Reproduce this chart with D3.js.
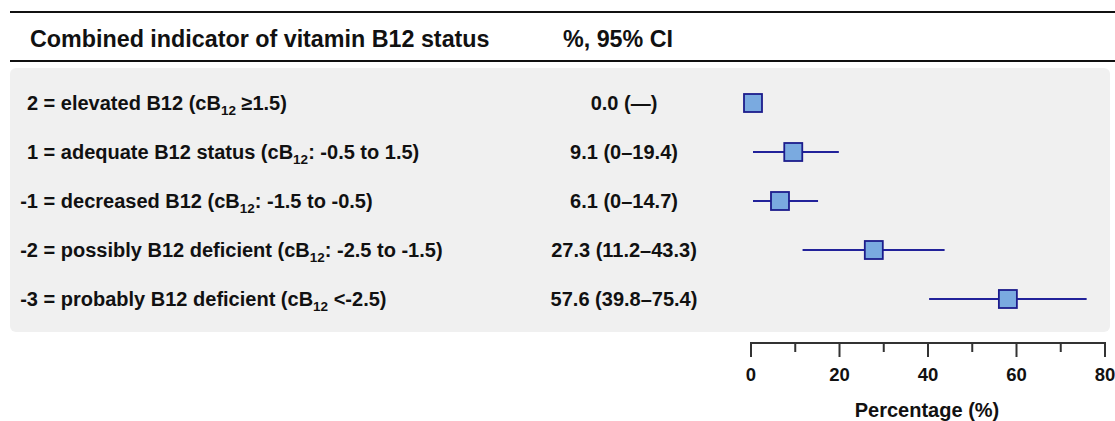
<!DOCTYPE html>
<meta charset="utf-8">

<style>
body { margin: 0; background: #fff; }
svg text { font-family: "Liberation Sans", Arial, sans-serif; font-weight: bold; fill: #111; }
</style>

<svg width="1115" height="421"></svg>

<script src="https://d3js.org/d3.v7.min.js"></script>

<script>
// category codes and their descriptions (the subscript "12" after cB is drawn as tspan)
var codes = ["2", "1", "-1", "-2", "-3"]
var descA = ["elevated B12 (cB", "adequate B12 status (cB", "decreased B12 (cB", "possibly B12 deficient (cB", "probably B12 deficient (cB"]
var descB = [" \u22651.5)", ": -0.5 to 1.5)", ": -1.5 to -0.5)", ": -2.5 to -1.5)", " <-2.5)"]

// percentages with 95% CI
var pct   = [0.0, 9.1, 6.1, 27.3, 57.6]
var lower = [null, 0, 0, 11.2, 39.8]
var upper = [null, 19.4, 14.7, 43.3, 75.4]
var ciText = ["0.0 (\u2014)", "9.1 (0\u201319.4)", "6.1 (0\u201314.7)", "27.3 (11.2\u201343.3)", "57.6 (39.8\u201375.4)"]

var xTicks = [0, 10, 20, 30, 40, 50, 60, 70, 80]
var xLabels = [0, 20, 40, 60, 80]

var svg = d3.select('svg')

var x = d3.scaleLinear().domain([0, 80]).range([751, 1105])
// marks sit a couple of pixels right of the axis in the original
var xm = d3.scaleLinear().domain([0, 80]).range([753, 1107])
var y = d3.scalePoint().domain(codes).range([103, 299])

// header rules
svg.append("line").attr("x1", 10).attr("x2", 1115).attr("y1", 12).attr("y2", 12)
    .attr("stroke", "#111").attr("stroke-width", 2)
svg.append("line").attr("x1", 10).attr("x2", 1115).attr("y1", 61).attr("y2", 61)
    .attr("stroke", "#111").attr("stroke-width", 2)

svg.append("text").attr("x", 30).attr("y", 47).attr("font-size", 23.3)
    .text("Combined indicator of vitamin B12 status")
svg.append("text").attr("x", 618).attr("y", 47).attr("font-size", 23.3)
    .attr("text-anchor", "middle").text("%, 95% CI")

// gray panel
svg.append("rect").attr("x", 10).attr("y", 68).attr("width", 1100).attr("height", 264)
    .attr("rx", 6).attr("fill", "#f0f0f0")

var rows = codes.map(function (c, i) {
    return { code: c, a: descA[i], b: descB[i], p: pct[i], lo: lower[i], hi: upper[i], ci: ciText[i] }
})

// labels: code right-aligned so the "=" signs line up
var lab = svg.append("g").selectAll("g").data(rows).enter().append("g")
lab.append("text")
    .attr("x", 38).attr("y", function (d) { return y(d.code) + 7 })
    .attr("font-size", 20).attr("text-anchor", "end")
    .text(function (d) { return d.code })
var t = lab.append("text")
    .attr("x", 38).attr("y", function (d) { return y(d.code) + 7 })
    .attr("font-size", 20).attr("xml:space", "preserve")
t.append("tspan").text(function (d) { return " = " + d.a })
t.append("tspan").attr("font-size", 13.5).attr("dy", 5).text("12")
t.append("tspan").attr("dy", -5).text(function (d) { return d.b })

// CI text column
svg.append("g").selectAll("text").data(rows).enter().append("text")
    .attr("x", 624).attr("y", function (d) { return y(d.code) + 7 })
    .attr("font-size", 20).attr("text-anchor", "middle")
    .text(function (d) { return d.ci })

// CI whiskers
svg.append("g").selectAll("line").data(rows.filter(function (d) { return d.lo !== null })).enter().append("line")
    .attr("x1", function (d) { return xm(d.lo) }).attr("x2", function (d) { return xm(d.hi) })
    .attr("y1", function (d) { return y(d.code) }).attr("y2", function (d) { return y(d.code) })
    .attr("stroke", "#22229a").attr("stroke-width", 2)

// point estimates
var s = 18
svg.append("g").selectAll("rect").data(rows).enter().append("rect")
    .attr("x", function (d) { return xm(d.p) - s / 2 })
    .attr("y", function (d) { return y(d.code) - s / 2 })
    .attr("width", s).attr("height", s)
    .attr("fill", "#7aaae0").attr("stroke", "#1c1c8c").attr("stroke-width", 1.8)

// x axis (ticks hang below the line)
var ax = svg.append("g")
ax.append("line").attr("x1", x(0)).attr("x2", x(80)).attr("y1", 343).attr("y2", 343)
    .attr("stroke", "#333").attr("stroke-width", 2)
ax.selectAll(".tk").data(xTicks).enter().append("line")
    .attr("x1", x).attr("x2", x).attr("y1", 342)
    .attr("y2", function (d) { return xLabels.indexOf(d) > -1 ? 357 : 352 })
    .attr("stroke", "#333").attr("stroke-width", 2)
ax.selectAll(".tl").data(xLabels).enter().append("text")
    .attr("x", x).attr("y", 381).attr("font-size", 18.5).attr("text-anchor", "middle")
    .text(function (d) { return d })
ax.append("text").attr("x", 927).attr("y", 417).attr("font-size", 20)
    .attr("text-anchor", "middle").text("Percentage (%)")
</script>
